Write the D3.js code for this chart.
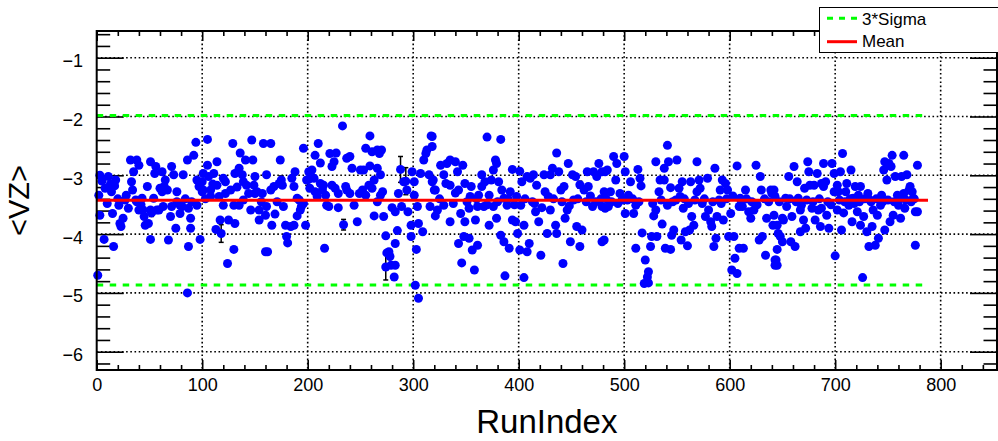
<!DOCTYPE html>
<html><head><meta charset="utf-8">
<script src="https://cdn.jsdelivr.net/npm/d3@7"></script>
<style>body{margin:0;background:#fff}svg{display:block}</style>
</head><body>
<svg id="c" width="998" height="441"></svg>
<script>
const runIndex = [
1,2,3,3,5,7,8,10,11,13,14,15,16,17,18,20,21,22,23,25,27,28,30,32,33,34,35,37,38,38,40,40,42,43,44,45,46,48,49,51,51,51,52,54,55,56,57,59,60,62,62,63,64,65,67,68,70,71,71,73,75,76,76,79,79,81,82,84,86,86,87,87,89,89,90,92,94,95,95,97,98,100,100,101,101,103,105,105,106,108,108,110,111,113,114,114,116,117,118,120,120,122,122,124,125,127,129,130,130,131,131,133,135,135,136,138,139,139,141,142,144,146,147,148,149,150,150,152,154,154,156,157,158,160,160,
161,161,162,165,165,166,168,169,171,173,174,175,176,177,179,180,181,184,185,187,187,188,190,190,192,193,194,196,196,198,199,201,201,202,204,206,207,207,209,210,212,212,214,215,216,217,218,220,221,223,223,225,226,227,229,229,233,234,236,237,237,240,240,242,244,247,249,250,252,253,255,255,258,259,259,261,261,263,263,266,266,266,268,269,269,270,271,272,274,274,275,277,278,279,280,282,283,283,283,285,286,288,289,291,293,294,295,298,298,299,301,301,302,303,304,305,305,307,309,310,312,313,315,316,317,318,320,321,
318,318,319,321,323,326,329,329,331,332,335,335,335,338,340,342,343,343,345,346,347,348,349,349,353,353,354,355,356,358,359,361,361,362,365,365,367,368,370,372,372,374,376,376,378,379,379,381,383,383,384,386,386,387,389,391,392,394,394,397,398,399,401,401,402,403,405,405,408,408,410,411,413,414,416,417,419,421,424,425,427,428,430,430,432,435,436,436,438,440,442,443,444,446,447,449,451,452,454,455,458,458,460,462,465,466,470,471,474,476,479,481,482,482,
325,340,351,360,370,380,390,396,406,415,422,433,441,448,456,464,468,473,478,
479,479,481,484,485,487,490,492,493,496,498,500,501,501,504,506,509,511,511,513,515,516,517,519,520,522,523,523,525,526,528,530,530,531,533,534,536,538,538,539,541,541,542,544,544,545,547,549,550,552,553,554,555,556,558,560,562,563,564,566,569,569,571,572,574,577,579,580,582,583,585,586,587,588,590,591,593,594,596,598,599,601,602,604,605,607,607,609,609,610,612,613,615,618,620,623,625,628,629,630,631,634,635,639,640,641,642,643,643,
483,488,494,503,508,514,527,535,546,557,561,567,576,584,592,597,603,611,616,621,626,633,637,
642,643,645,645,644,645,646,648,650,650,651,653,654,656,658,659,661,662,664,665,667,667,668,670,671,672,674,675,676,678,680,681,683,684,686,687,687,689,689,691,692,694,697,699,699,700,702,702,703,705,706,707,708,710,711,713,715,716,717,719,721,722,724,724,726,727,730,731,732,733,735,736,738,740,741,743,744,746,747,747,749,751,752,753,754,755,757,759,760,762,763,765,765,766,768,770,771,773,774,776,776,778,778,
647,657,663,673,679,685,693,696,704,709,714,718,723,728,734,739,745,750,756,761,767,772,775
];
const vzMean = [
-4.70,-3.34,-3.68,-3.00,-3.10,-4.09,-3.22,-3.48,-3.02,-3.15,-3.28,-3.65,-4.21,-3.18,-3.08,-3.40,-3.51,-3.82,-3.87,-3.73,-3.42,-3.34,-3.56,-2.74,-3.11,-3.25,-2.94,-3.42,-2.74,-3.45,-3.59,-2.83,-3.50,-3.39,-3.59,-3.70,-3.85,-3.19,-3.82,-2.77,-4.09,-3.59,-3.64,-3.39,-2.97,-2.85,-3.59,-3.59,-3.22,-2.94,-3.28,-3.53,-3.19,-3.08,-3.25,-4.10,-3.70,-2.85,-3.53,-2.99,-3.90,-3.28,-3.45,-3.65,-3.51,-3.53,-2.99,-3.40,-2.74,-5.00,-4.21,-3.56,-3.73,-3.90,-3.45,-2.66,-2.44,-3.08,-3.51,-3.19,-4.09,-3.11,-3.28,-2.97,-3.25,-3.40,-2.83,-2.39,-3.02,-3.25,-3.36,-3.15,-2.97,-3.92,-2.77,-3.17,-3.36,-3.76,-3.99,-3.51,-3.05,-3.11,-3.31,-4.50,-3.76,-3.25,-2.46,-4.26,-3.51,-3.82,-2.97,-3.20,-2.88,-3.51,-2.62,-2.99,-3.42,-3.11,-2.74,-3.17,-3.31,-3.59,-2.40,-2.74,-3.17,-3.02,-3.31,-3.28,-3.76,-3.59,-3.45,-3.31,-2.46,-4.30,-3.68,
-2.99,-3.53,-4.30,-2.46,-3.25,-3.85,-3.19,-3.66,-3.45,-3.14,-2.74,-3.08,-3.17,-3.53,-3.85,-4.04,-4.15,-3.87,-3.05,-3.85,-3.19,-2.94,-3.39,-3.69,-3.42,-3.59,-3.53,-2.54,-3.48,-3.85,-3.08,-2.94,-3.07,-3.22,-2.91,-3.05,-2.66,-3.28,-3.36,-2.46,-2.79,-3.14,-3.25,-3.17,-4.24,-3.34,-3.51,-3.53,-2.63,-2.85,-3.17,-2.77,-3.22,-2.62,-3.31,-3.55,-2.16,-3.84,-3.19,-2.71,-3.25,-2.68,-3.31,-2.88,-3.51,-3.79,-3.31,-2.91,-3.25,-2.91,-2.54,-3.34,-3.17,-2.33,-2.84,-2.60,-3.22,-3.08,-3.69,-2.57,-2.88,-3.45,-2.63,-2.99,-3.34,-2.57,-3.28,-3.70,-4.03,-4.56,-4.32,-4.30,-4.38,-4.53,-3.55,-4.73,-4.16,-4.53,-3.62,-3.94,-3.31,-2.90,-3.53,-3.11,-3.10,-3.25,-3.62,-3.85,-4.04,-2.94,-3.34,-3.11,-4.87,-4.26,-3.53,-3.82,-5.09,-2.97,-3.96,-2.74,-2.63,-2.57,-2.99,-3.53,-2.33,-3.11,-3.25,-3.69,
-2.34,-2.51,-3.08,-3.25,-3.59,-2.83,-2.99,-3.51,-3.14,-2.80,-2.74,-3.17,-3.79,-3.48,-2.77,-2.94,-3.25,-4.16,-3.65,-4.49,-2.83,-4.04,-3.14,-3.79,-3.56,-4.07,-3.36,-3.19,-4.27,-4.61,-3.76,-4.19,-3.53,-3.34,-2.99,-3.19,-3.53,-3.11,-2.35,-3.34,-3.85,-3.08,-2.91,-3.53,-2.74,-2.80,-3.73,-3.11,-2.39,-4.02,-3.25,-3.39,-4.13,-4.71,-3.51,-4.24,-3.28,-2.90,-3.76,-3.79,-3.36,-3.99,-2.93,-4.27,-3.51,-3.11,-3.85,-4.74,-4.30,-3.02,-4.16,-3.05,-3.45,-2.99,-3.62,-3.17,-3.79,-4.36,-2.99,-3.28,-3.99,-3.36,-2.99,-3.59,-2.88,-3.85,-2.62,-3.99,-2.94,-3.25,-4.50,-3.19,-3.73,-3.59,-2.80,-4.13,-2.99,-3.42,-3.02,-3.87,-3.16,-4.21,-3.93,-3.25,-2.94,-3.19,-3.53,-2.94,-3.02,-2.80,-4.13,-3.28,-2.94,-3.56,
-3.40,-3.30,-3.45,-3.40,-3.50,-3.45,-3.40,-3.50,-3.40,-3.48,-3.55,-3.40,-3.45,-3.52,-3.40,-3.45,-3.35,-3.45,-3.40,
-2.94,-3.53,-4.10,-2.91,-3.53,-3.28,-2.68,-3.08,-2.80,-3.31,-3.42,-2.68,-2.94,-3.65,-3.34,-3.11,-3.65,-3.51,-4.24,-2.90,-3.05,-3.18,-3.98,-4.84,-4.44,-4.73,-4.83,-4.64,-4.21,-4.04,-3.69,-3.59,-2.77,-4.04,-3.28,-3.08,-3.83,-3.08,-2.88,-4.24,-2.49,-3.51,-2.77,-4.26,-3.21,-4.02,-3.93,-3.42,-2.74,-3.22,-3.36,-4.10,-3.11,-3.56,-3.96,-4.20,-3.93,-3.11,-3.70,-3.85,-2.77,-3.28,-3.08,-3.22,-3.48,-3.70,-3.05,-3.59,-3.79,-3.87,-4.21,-2.88,-4.07,-3.70,-3.42,-3.25,-3.08,-3.76,-3.14,-3.25,-4.04,-3.65,-4.61,-4.04,-4.41,-4.67,-2.84,-3.53,-4.24,-3.39,-3.53,-4.24,-3.25,-3.62,-3.73,-3.59,-2.83,-4.10,-3.02,-3.25,-4.04,-4.36,-3.73,-3.25,-3.31,-3.85,-3.68,-4.44,-4.53,
-3.40,-3.45,-3.48,-3.42,-3.40,-3.45,-3.48,-3.42,-3.45,-3.40,-3.48,-3.42,-3.40,-3.45,-3.48,-3.40,-3.35,-3.45,-3.40,-3.45,-3.50,-3.40,-3.45,
-3.25,-3.36,-3.85,-4.26,-4.44,-4.53,-3.99,-4.04,-4.13,-3.73,-3.76,-3.39,-3.53,-3.02,-4.13,-3.70,-2.85,-4.21,-3.11,-3.39,-3.59,-3.96,-3.51,-3.76,-3.22,-3.90,-2.77,-2.94,-3.17,-3.56,-3.17,-3.76,-2.97,-3.59,-3.87,-3.56,-3.14,-3.19,-2.80,-3.11,-3.68,-3.90,-2.80,-3.28,-2.97,-4.37,-3.17,-3.59,-3.28,-2.94,-3.93,-2.63,-3.64,-3.28,-3.14,-3.51,-2.91,-3.79,-3.39,-3.19,-3.62,-3.34,-3.85,-3.19,-4.74,-3.70,-3.96,-3.31,-4.21,-3.42,-3.87,-3.59,-4.19,-3.68,-4.07,-3.51,-3.34,-2.91,-3.93,-2.77,-3.08,-2.80,-3.79,-2.85,-2.66,-3.68,-3.02,-3.34,-3.51,-3.73,-3.02,-2.66,-3.31,-3.56,-2.99,-3.25,-3.19,-3.28,-3.39,-3.62,-4.19,-2.83,-3.62,
-3.45,-3.40,-3.45,-3.42,-3.45,-3.40,-3.45,-3.50,-3.42,-3.45,-3.40,-3.48,-3.45,-3.40,-3.45,-3.40,-3.45,-3.42,-3.45,-3.40,-3.42,-3.45,-3.40
];
const errRun = [52,118,175,200,234,274,288,293,458];
const errVal = [-3.64,-3.99,-3.08,-3.07,-3.84,-4.56,-2.90,-3.10,-3.16];
const errSize = [0.06,0.15,0.07,0.10,0.09,0.22,0.22,0.23,0.06];
const meanValue = -3.425;
const sigmaUpper = -1.985;
const sigmaLower = -4.865;
const lineStartRun = 0;
const lineEndRun = 788;
const xMajorTicks = [0,100,200,300,400,500,600,700,800];
const yMajorTicks = [-1,-2,-3,-4,-5,-6];
const xTitle = "RunIndex";
const yTitle = "<VZ>";
const legendLabels = ["3*Sigma","Mean"];

const L = 96.7, R = 997, T = 31, B = 370;
const x = d3.scaleLinear().domain([0, 853.4]).range([L, R]);
const y = d3.scaleLinear().domain([-6.311, -0.546]).range([B, T]);
const svg = d3.select("#c");
const font = "'Liberation Sans', Arial, Helvetica, sans-serif";

const xMinor = d3.range(0, 853, 20).filter(v => v % 100 !== 0);
const yMinor = d3.range(-62, -5, 2).map(v => v / 10).filter(v => Math.abs(v - Math.round(v)) > 1e-6);

// grid
const grid = svg.append("g").attr("stroke", "#000").attr("stroke-width", 1.6).attr("stroke-dasharray", "1.6,2.6");
grid.selectAll(".gx").data(xMajorTicks.filter(v => v > 0)).join("line")
  .attr("x1", d => x(d)).attr("x2", d => x(d)).attr("y1", T).attr("y2", B);
grid.selectAll(".gy").data(yMajorTicks).join("line")
  .attr("x1", L).attr("x2", R).attr("y1", d => y(d)).attr("y2", d => y(d));

// axes ticks
function styleAxis(g) { g.select(".domain").remove(); g.selectAll(".tick line").attr("stroke", "#000").attr("stroke-width", 1.6); }
svg.append("g").attr("transform", `translate(0,${B})`)
  .call(d3.axisBottom(x).tickValues(xMinor).tickSize(-5).tickSizeOuter(0).tickFormat("")).call(styleAxis);
svg.append("g").attr("transform", `translate(0,${B})`)
  .call(d3.axisBottom(x).tickValues(xMajorTicks).tickSize(-10).tickSizeOuter(0).tickPadding(8.5).tickFormat(d3.format("d"))).call(styleAxis)
  .selectAll("text").attr("font-family", font).attr("font-size", 18).attr("fill", "#000");
svg.append("g").attr("transform", `translate(0,${T})`)
  .call(d3.axisTop(x).tickValues(xMinor).tickSize(-5).tickSizeOuter(0).tickFormat("")).call(styleAxis);
svg.append("g").attr("transform", `translate(0,${T})`)
  .call(d3.axisTop(x).tickValues(xMajorTicks).tickSize(-10).tickSizeOuter(0).tickFormat("")).call(styleAxis);
svg.append("g").attr("transform", `translate(${L},0)`)
  .call(d3.axisLeft(y).tickValues(yMinor).tickSize(-13.5).tickSizeOuter(0).tickFormat("")).call(styleAxis);
const yax = svg.append("g").attr("transform", `translate(${L},0)`)
  .call(d3.axisLeft(y).tickValues(yMajorTicks).tickSize(-27).tickSizeOuter(0).tickPadding(13.7).tickFormat(d3.format("d"))).call(styleAxis);
yax.selectAll("text").attr("font-family", font).attr("font-size", 18).attr("fill", "#000").attr("dy", "0.5em");
svg.append("g").attr("transform", `translate(${R},0)`)
  .call(d3.axisRight(y).tickValues(yMinor).tickSize(-13.5).tickSizeOuter(0).tickFormat("")).call(styleAxis);
svg.append("g").attr("transform", `translate(${R},0)`)
  .call(d3.axisRight(y).tickValues(yMajorTicks).tickSize(-27).tickSizeOuter(0).tickFormat("")).call(styleAxis);

// sigma lines
const sig = svg.append("g").attr("stroke", "#00ff00").attr("stroke-width", 3).attr("stroke-dasharray", "6.5,6.5");
[sigmaUpper, sigmaLower].forEach(v => sig.append("line")
  .attr("x1", x(lineStartRun)).attr("x2", x(lineEndRun)).attr("y1", y(v)).attr("y2", y(v)));

// error bars
const eb = svg.append("g").attr("stroke", "#000").attr("stroke-width", 1.5);
errRun.forEach((r, i) => {
  const cx = x(r), y1 = y(errVal[i] + errSize[i]), y2 = y(errVal[i] - errSize[i]);
  eb.append("line").attr("x1", cx).attr("x2", cx).attr("y1", y1).attr("y2", y2);
  eb.append("line").attr("x1", cx - 2.5).attr("x2", cx + 2.5).attr("y1", y1).attr("y2", y1);
  eb.append("line").attr("x1", cx - 2.5).attr("x2", cx + 2.5).attr("y1", y2).attr("y2", y2);
});

// points
svg.append("g").selectAll("circle").data(runIndex.map((r, i) => [r, vzMean[i]])).join("circle")
  .attr("cx", d => x(d[0])).attr("cy", d => y(d[1])).attr("r", 4.5).attr("fill", "#0000ff");

// mean line
svg.append("line").attr("x1", x(lineStartRun)).attr("x2", x(lineEndRun)).attr("y1", y(meanValue)).attr("y2", y(meanValue))
  .attr("stroke", "#ff0000").attr("stroke-width", 3);

// frame
svg.append("rect").attr("x", L).attr("y", T).attr("width", R - L).attr("height", B - T)
  .attr("fill", "none").attr("stroke", "#000").attr("stroke-width", 2);

// titles
svg.append("text").attr("x", (L + R) / 2).attr("y", 433).attr("text-anchor", "middle")
  .attr("font-family", font).attr("font-size", 33).text(xTitle);
svg.append("text").attr("transform", `translate(29,${(T + B) / 2}) rotate(-90)`).attr("text-anchor", "middle")
  .attr("font-family", font).attr("font-size", 29).text(yTitle);

// legend
const lg = svg.append("g");
lg.append("rect").attr("x", 819.5).attr("y", 7.5).attr("width", 200).attr("height", 45)
  .attr("fill", "#fff").attr("stroke", "#000").attr("stroke-width", 1);
lg.append("line").attr("x1", 827).attr("x2", 857).attr("y1", 18.3).attr("y2", 18.3)
  .attr("stroke", "#00ff00").attr("stroke-width", 3).attr("stroke-dasharray", "6,6");
lg.append("line").attr("x1", 827).attr("x2", 857).attr("y1", 41.7).attr("y2", 41.7)
  .attr("stroke", "#ff0000").attr("stroke-width", 3);
lg.selectAll("text").data(legendLabels).join("text")
  .attr("x", 862).attr("y", (d, i) => i === 0 ? 24.5 : 46.7)
  .attr("font-family", font).attr("font-size", 17).text(d => d);
</script>
</body></html>
